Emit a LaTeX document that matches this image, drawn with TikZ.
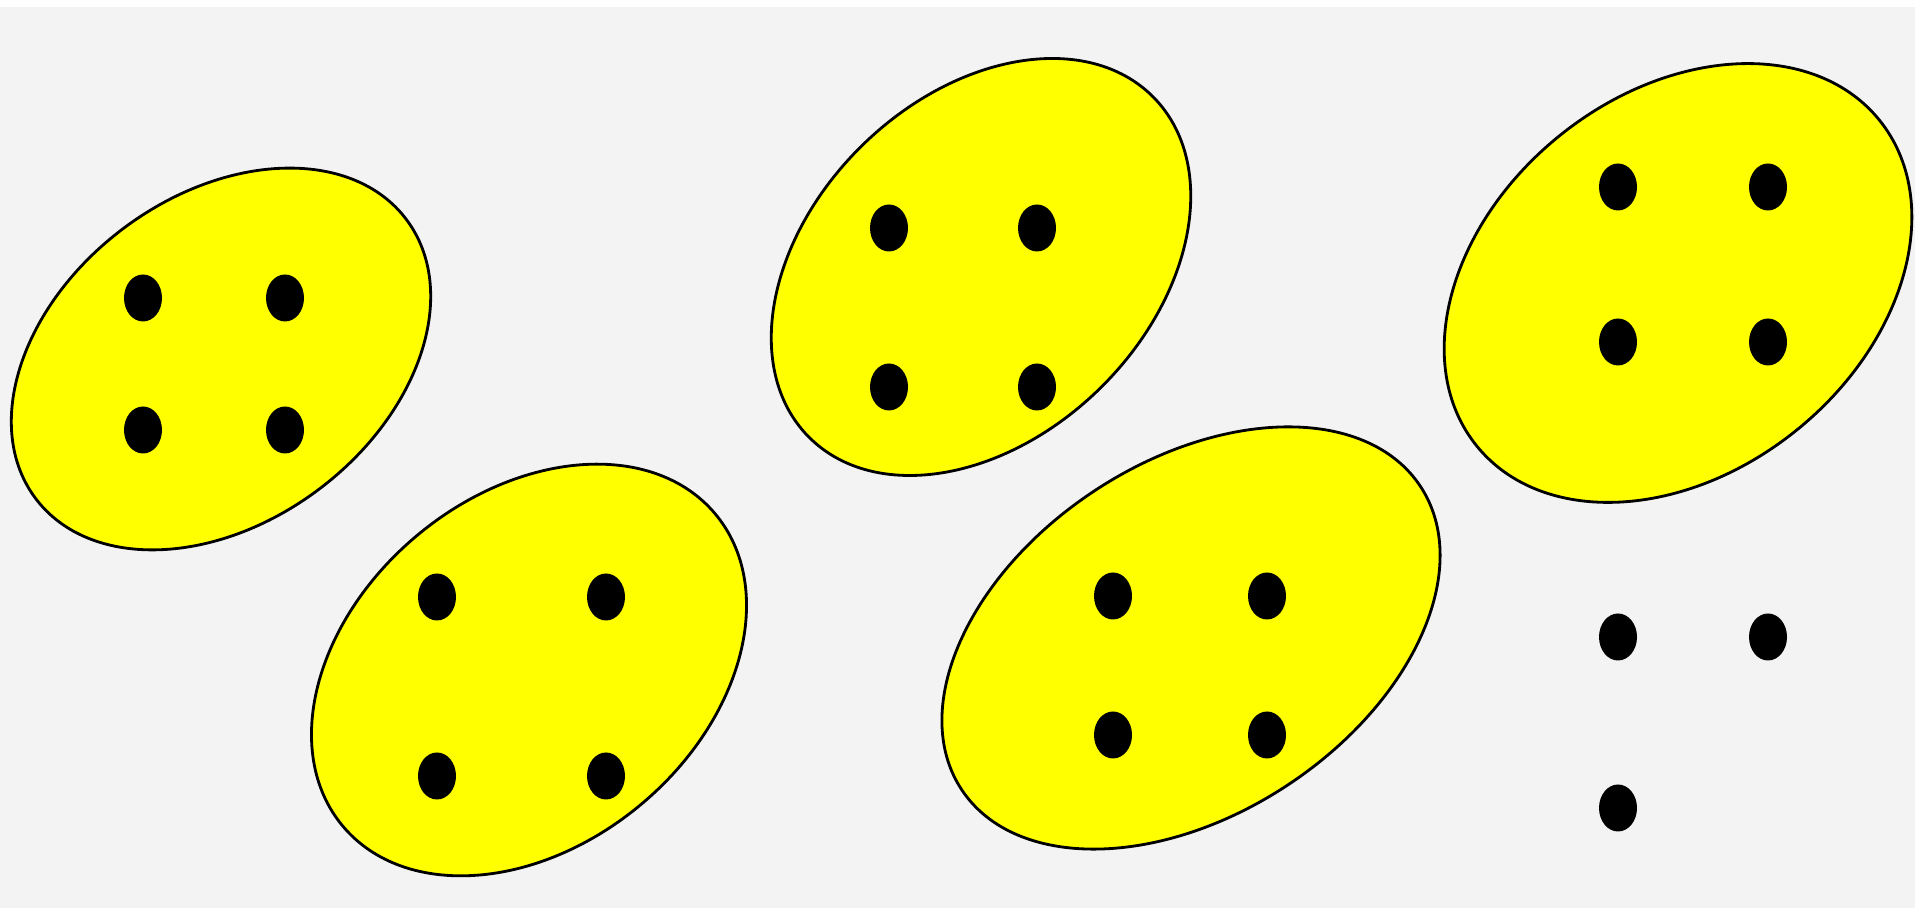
\documentclass[tikz,border=0pt]{standalone}
\usepackage{xcolor}
\definecolor{bggray}{RGB}{243,243,243}
\definecolor{setyellow}{RGB}{255,255,0}
\usepackage{tikz}
\usetikzlibrary{shapes.geometric}

\begin{document}
\begin{tikzpicture}[
    setblob/.style={ellipse, draw=black, line width=0.8pt, fill=setyellow, inner sep=0pt},
    elem/.style={ellipse, fill=black, inner sep=0pt, minimum width=0.38cm, minimum height=0.47cm}]
  \useasboundingbox (0,0) rectangle (19.2,9.1);
  % Background panel
  \fill[bggray] (0,0.02) rectangle (19.15,9.03);

  % Set 1
  \node[setblob, minimum width=4.64cm, minimum height=3.26cm, rotate=37] (set1) at (2.21,5.51) {};
  \node[elem] (s1a) at (1.43,6.12) {};
  \node[elem] (s1b) at (2.85,6.12) {};
  \node[elem] (s1c) at (1.43,4.80) {};
  \node[elem] (s1d) at (2.85,4.80) {};

  % Set 2
  \node[setblob, minimum width=4.86cm, minimum height=3.50cm, rotate=40] (set2) at (5.29,2.40) {};
  \node[elem] (s2a) at (4.37,3.13) {};
  \node[elem] (s2b) at (6.06,3.13) {};
  \node[elem] (s2c) at (4.37,1.34) {};
  \node[elem] (s2d) at (6.06,1.34) {};

  % Set 3
  \node[setblob, minimum width=4.84cm, minimum height=3.40cm, rotate=44.5] (set3) at (9.81,6.43) {};
  \node[elem] (s3a) at (8.89,6.82) {};
  \node[elem] (s3b) at (10.37,6.82) {};
  \node[elem] (s3c) at (8.89,5.23) {};
  \node[elem] (s3d) at (10.37,5.23) {};

  % Set 4
  \node[setblob, minimum width=5.50cm, minimum height=3.52cm, rotate=33.5] (set4) at (11.91,2.72) {};
  \node[elem] (s4a) at (11.13,3.14) {};
  \node[elem] (s4b) at (12.67,3.14) {};
  \node[elem] (s4c) at (11.13,1.75) {};
  \node[elem] (s4d) at (12.67,1.75) {};

  % Set 5
  \node[setblob, minimum width=5.18cm, minimum height=3.78cm, rotate=39] (set5) at (16.78,6.27) {};
  \node[elem] (s5a) at (16.18,7.23) {};
  \node[elem] (s5b) at (17.68,7.23) {};
  \node[elem] (s5c) at (16.18,5.68) {};
  \node[elem] (s5d) at (17.68,5.68) {};

  % Leftover elements
  \node[elem] (r1) at (16.18,2.73) {};
  \node[elem] (r2) at (17.68,2.73) {};
  \node[elem] (r3) at (16.18,1.02) {};
\end{tikzpicture}
\end{document}
